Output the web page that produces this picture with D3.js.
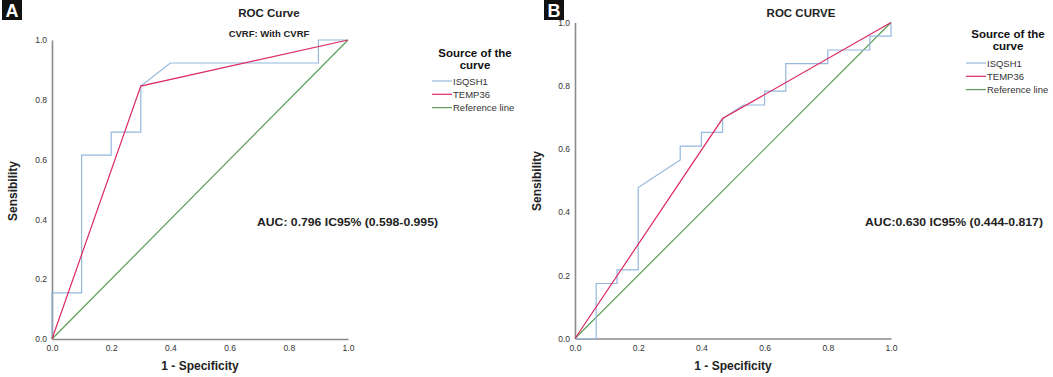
<!DOCTYPE html>
<html><head><meta charset="utf-8">
<script src="https://cdn.jsdelivr.net/npm/d3@7"></script>
<style>body{margin:0;background:#fff}svg{display:block;font-family:"Liberation Sans",Arial,sans-serif}</style>
</head><body><svg id="c" width="1053" height="377"></svg>
<script>
// ---- data ----
const tickValues = [0.0, 0.2, 0.4, 0.6, 0.8, 1.0];
const legendLabels = ["ISQSH1", "TEMP36", "Reference line"];
// Panel A (x = 1 - specificity, y = sensitivity)
const isqA_x = [0, 0, 0.1, 0.1, 0.2, 0.2, 0.3, 0.3, 0.4, 0.9, 0.9, 1.0];
const isqA_y = [0, 0.154, 0.154, 0.615, 0.615, 0.692, 0.692, 0.846, 0.923, 0.923, 1.0, 1.0];
const tempA_x = [0, 0.3, 1.0];
const tempA_y = [0, 0.846, 1.0];
// Panel B
const isqB_x = [0, 0.067, 0.067, 0.133, 0.133, 0.2, 0.2, 0.333, 0.333, 0.4, 0.4, 0.467, 0.467, 0.533, 0.6, 0.6, 0.667, 0.667, 0.8, 0.8, 0.933, 0.933, 1.0, 1.0];
const isqB_y = [0, 0, 0.174, 0.174, 0.217, 0.217, 0.478, 0.565, 0.609, 0.609, 0.652, 0.652, 0.696, 0.739, 0.739, 0.783, 0.783, 0.870, 0.870, 0.913, 0.913, 0.957, 0.957, 1.0];
const tempB_x = [0, 0.467, 1.0];
const tempB_y = [0, 0.696, 1.0];
const refX = [0, 1], refY = [0, 1];
const titlesA = ["ROC Curve", "CVRF: With CVRF"];
const titlesB = ["ROC CURVE"];
const aucA = "AUC: 0.796 IC95% (0.598-0.995)";
const aucB = "AUC:0.630 IC95% (0.444-0.817)";

const colors = ["#94b8de", "#dc2a62", "#5c9e58"];
const svg = d3.select("#c");

function panel(o) {
  const x = d3.scaleLinear().domain([0, 1]).range([o.x0, o.x1]);
  const y = d3.scaleLinear().domain([0, 1]).range([o.y0, o.y1]);
  const g = svg.append("g");
  const xa = g.append("g").attr("transform", `translate(0,${o.y0})`)
    .call(d3.axisBottom(x).tickValues(tickValues).tickFormat(d3.format(".1f")).tickSize(0).tickPadding(6));
  const ya = g.append("g").attr("transform", `translate(${o.x0},0)`)
    .call(d3.axisLeft(y).tickValues(tickValues).tickFormat(d3.format(".1f")).tickSize(0).tickPadding(5));
  [xa, ya].forEach(a => {
    a.select(".domain").attr("stroke", "#8a8a8a").attr("stroke-width", 1.6);
    a.selectAll("text").attr("font-size", 8.5).attr("fill", "#333").attr("font-family", "Liberation Sans, Arial, sans-serif");
  });
  const line = d3.line().x(d => x(d[0])).y(d => y(d[1]));
  const series = [
    [o.isqX, o.isqY, colors[0]],
    [o.tmpX, o.tmpY, colors[1]],
    [refX, refY, colors[2]]
  ];
  [series[2], series[0], series[1]].forEach(s => {
    g.append("path").datum(s[0].map((v, i) => [v, s[1][i]]))
      .attr("d", line).attr("fill", "none").attr("stroke", s[2]).attr("stroke-width", 1.2);
  });
  g.append("rect").attr("x", o.boxX).attr("y", 0).attr("width", 20).attr("height", 20).attr("fill", "#111");
  g.append("text").attr("x", o.boxX + 10).attr("y", 17).attr("text-anchor", "middle")
    .attr("fill", "#fff").attr("font-weight", "bold").attr("font-size", 18).text(o.label);
  g.append("text").attr("x", o.titleX).attr("y", 17).attr("text-anchor", "middle")
    .attr("font-weight", "bold").attr("font-size", 11.5).attr("fill", "#222").text(o.titles[0]);
  if (o.titles[1]) g.append("text").attr("x", o.titleX).attr("y", 37).attr("text-anchor", "middle")
    .attr("font-weight", "bold").attr("font-size", 9.5).attr("fill", "#222").text(o.titles[1]);
  g.append("text").attr("x", (o.x0 + o.x1) / 2).attr("y", 370).attr("text-anchor", "middle")
    .attr("font-weight", "bold").attr("font-size", 12).attr("fill", "#222").text("1 - Specificity");
  g.append("text").attr("transform", `translate(${o.ytX},${o.ytY}) rotate(-90)`).attr("text-anchor", "middle")
    .attr("font-weight", "bold").attr("font-size", 12).attr("fill", "#222").text("Sensibility");
  g.append("text").attr("x", o.aucX).attr("y", 226).attr("font-weight", "bold")
    .attr("font-size", 11).attr("textLength", o.aucW).attr("lengthAdjust", "spacingAndGlyphs")
    .attr("fill", "#222").text(o.auc);
  g.append("text").attr("x", o.legCx).attr("y", o.legY).attr("text-anchor", "middle")
    .attr("font-weight", "bold").attr("font-size", 11.5).attr("fill", "#111").text("Source of the");
  g.append("text").attr("x", o.legCx).attr("y", o.legY + 12).attr("text-anchor", "middle")
    .attr("font-weight", "bold").attr("font-size", 11.5).attr("fill", "#111").text("curve");
  legendLabels.forEach((lab, i) => {
    const yy = o.legItemY + i * 13.3;
    g.append("line").attr("x1", o.legLx).attr("x2", o.legLx + 20).attr("y1", yy).attr("y2", yy)
      .attr("stroke", colors[i]).attr("stroke-width", 1.2);
    g.append("text").attr("x", o.legLx + 21).attr("y", yy + 3.5).attr("font-size", 9.5)
      .attr("fill", "#333").text(lab);
  });
}

panel({x0: 52, x1: 348, y0: 339, y1: 40, isqX: isqA_x, isqY: isqA_y, tmpX: tempA_x, tmpY: tempA_y,
  boxX: 2, label: "A", titleX: 269, titles: titlesA, ytX: 17, ytY: 191, aucX: 257, aucW: 181, auc: aucA,
  legCx: 475, legY: 56.5, legItemY: 81, legLx: 432});
panel({x0: 575, x1: 891, y0: 338.5, y1: 22.5, isqX: isqB_x, isqY: isqB_y, tmpX: tempB_x, tmpY: tempB_y,
  boxX: 544, label: "B", titleX: 801, titles: titlesB, ytX: 541, ytY: 181, aucX: 865, aucW: 178, auc: aucB,
  legCx: 1008, legY: 37.5, legItemY: 63, legLx: 966});
</script></body></html>
